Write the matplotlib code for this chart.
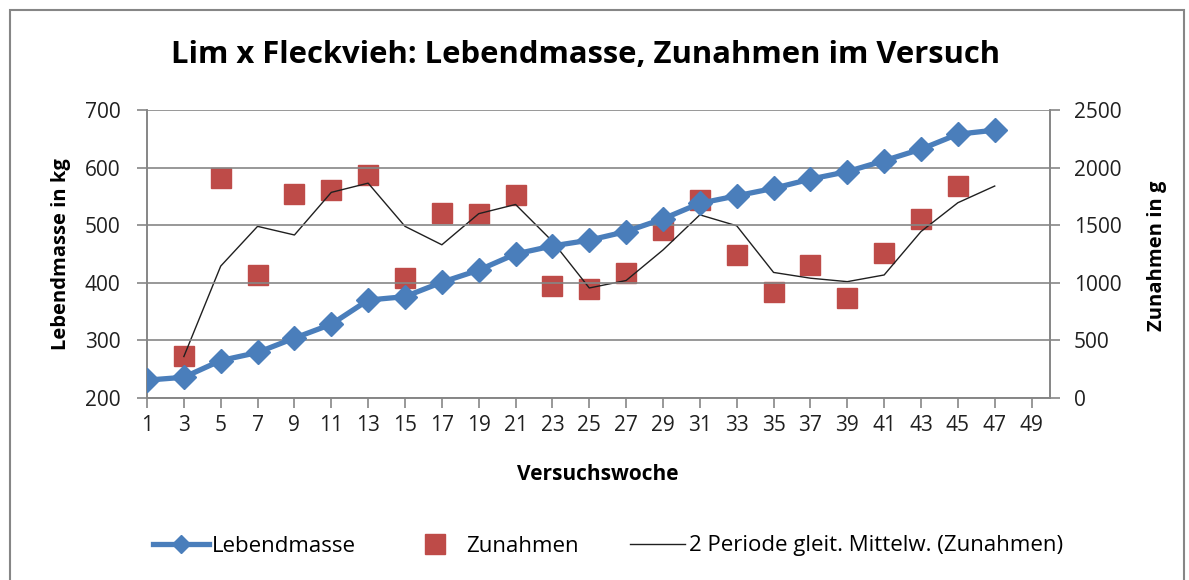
import matplotlib.pyplot as plt
from matplotlib.patches import Rectangle
from matplotlib.lines import Line2D

plt.rcParams['font.family'] = ['Open Sans', 'DejaVu Sans']

# Versuchswochen
wochen_lm = [1, 3, 5, 7, 9, 11, 13, 15, 17, 19, 21, 23, 25, 27, 29, 31, 33, 35, 37, 39, 41, 43, 45, 47]
lebendmasse = [231, 236, 265, 279, 304, 328, 370, 376, 401, 422, 450, 464, 474, 489, 511, 538,
               551, 564, 580, 593, 612, 632, 658, 665]

wochen_zu = [3, 5, 7, 9, 11, 13, 15, 17, 19, 21, 23, 25, 27, 29, 31, 33, 35, 37, 39, 41, 43, 45]
zunahmen = [367, 1912, 1068, 1771, 1805, 1936, 1045, 1609, 1597, 1765, 975, 943, 1088, 1458,
            1719, 1241, 920, 1155, 865, 1256, 1554, 1843]

wochen_ma = [3, 5, 7, 9, 11, 13, 15, 17, 19, 21, 23, 25, 27, 29, 31, 33, 35, 37, 39, 41, 43, 45, 47]
gleit_mittel = [360, 1145, 1490, 1415, 1785, 1865, 1490, 1330, 1600, 1680, 1360, 955, 1020, 1285,
                1590, 1495, 1090, 1040, 1010, 1068, 1445, 1695, 1840]

x_ticks = list(range(1, 50, 2))

blau = '#4A7EBB'
rot = '#BE4B48'
grau = '#868686'
W, H = 1189, 580

fig = plt.figure(figsize=(W / 100, H / 100), dpi=100)
fig.patches.append(Rectangle((10 / W, -0.01), 1174 / W, 1.0 - 10 / H + 0.01,
                             transform=fig.transFigure, fill=False, edgecolor=grau, lw=1.5))

ax = fig.add_axes([147 / W, 1 - 398 / H, (1050 - 147) / W, (398 - 110) / H])
ax2 = ax.twinx()

ax.plot(wochen_lm, lebendmasse, color=blau, lw=3.8, marker='D', ms=12, zorder=3)
ax2.plot(wochen_zu, zunahmen, ls='none', marker='s', ms=15, color=rot, zorder=2)
ax2.plot(wochen_ma, gleit_mittel, color='#202020', lw=1.0, zorder=2)

# blue series on top
ax.set_zorder(ax2.get_zorder() + 1)
ax.patch.set_visible(False)

ax.set_xlim(1, 50)
ax.set_ylim(200, 700)
ax2.set_ylim(0, 2500)
ax.set_xticks(x_ticks)
ax.set_yticks(range(200, 701, 100))
ax2.set_yticks(range(0, 2501, 500))

ax.grid(axis='y', color=grau, lw=1.2)
ax.set_axisbelow(True)

for a in (ax, ax2):
    a.spines['top'].set_visible(False)
    for s in ('left', 'right', 'bottom'):
        a.spines[s].set_color(grau)
        a.spines[s].set_linewidth(1.2)
    a.tick_params(colors=grau, labelcolor='#202020', labelsize=15, length=7, width=1.2)
ax.tick_params(axis='y', pad=12)
ax2.tick_params(axis='y', pad=10)
ax.tick_params(axis='x', pad=5)

fig.text(61 / W, 1 - 254 / H, 'Lebendmasse in kg', rotation=90, ha='center', va='center',
         fontsize=14.5, fontweight='bold')
fig.text(1157 / W, 1 - 256 / H, 'Zunahmen in g', rotation=90, ha='center', va='center',
         fontsize=14.5, fontweight='bold')
fig.text(598 / W, 1 - 474 / H, 'Versuchswoche', ha='center', va='center',
         fontsize=15, fontweight='bold')

fig.text(586 / W, 1 - 55 / H, 'Lim x Fleckvieh: Lebendmasse, Zunahmen im Versuch',
         ha='center', va='center', fontsize=22.3, fontweight='bold')

handles = [
    Line2D([], [], color=blau, lw=3.8, marker='D', ms=9),
    Line2D([], [], ls='none', marker='s', ms=14, color=rot),
    Line2D([], [], color='#202020', lw=1.0),
]
labels = ['Lebendmasse', 'Zunahmen', '2 Periode gleit. Mittelw. (Zunahmen)']
fig.legend(handles, labels, loc='center', bbox_to_anchor=(608 / W, 1 - 546 / H), ncol=3,
           frameon=False, fontsize=16, handlelength=2.5, columnspacing=2.3, handletextpad=0.15)

fig.savefig('out.png', dpi=100)
